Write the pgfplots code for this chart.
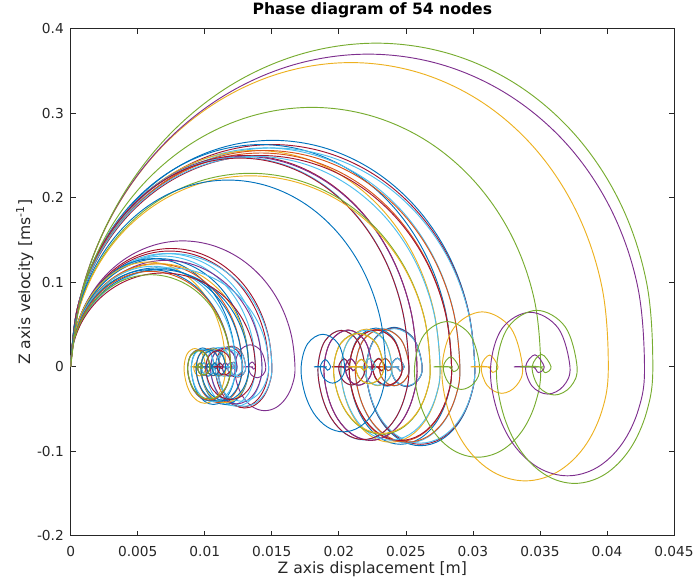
\documentclass[border=0pt]{standalone}
\usepackage{fontspec}
\setmainfont{DejaVu Sans}
\usepackage{pgfplots}
\usepackage{pgfplotstable}
\pgfplotsset{compat=1.18}

\definecolor{mblue}{rgb}{0,0.447,0.741}
\definecolor{morange}{rgb}{0.85,0.325,0.098}
\definecolor{myellow}{rgb}{0.929,0.694,0.125}
\definecolor{mpurple}{rgb}{0.494,0.184,0.556}
\definecolor{mgreen}{rgb}{0.466,0.674,0.188}
\definecolor{mcyan}{rgb}{0.301,0.745,0.933}
\definecolor{mred}{rgb}{0.635,0.078,0.184}
\definecolor{axgray}{rgb}{0.15,0.15,0.15}

\pgfplotsset{trace/.style={smooth, tension=0.6, line width=0.7pt, mark=none}}

% one row per column: displacement (x..) and velocity (v..) of each trace
\pgfplotstableread{
name p0 p1 p2 p3 p4 p5 p6 p7 p8 p9 p10 p11 p12 p13 p14 p15 p16 p17 p18 p19 p20 p21 p22 p23 p24 p25 p26 p27 p28 p29 p30 p31 p32 p33 p34
xa136 0 0.00028 0.00112 0.00245 0.00418 0.00620 0.00836 0.01053 0.01255 0.01428 0.01561 0.01644 0.01673 0.01656 0.01607 0.01534 0.01448 0.01363 0.01290 0.01241 0.01224 0.01258 0.01340 0.01421 0.01455 0.01436 0.01391 0.01345 0.01326 0.01353 0.01380 0.01363 0.01346 0.01292 0.01360
xa122 0 0.00025 0.00101 0.00220 0.00375 0.00556 0.00750 0.00945 0.01125 0.01281 0.01400 0.01475 0.01501 0.01485 0.01442 0.01376 0.01299 0.01222 0.01157 0.01113 0.01098 0.01128 0.01202 0.01275 0.01305 0.01288 0.01247 0.01206 0.01190 0.01214 0.01238 0.01223 0.01208 0.01159 0.01220
xa120 0 0.00025 0.00099 0.00216 0.00369 0.00547 0.00738 0.00929 0.01107 0.01260 0.01377 0.01451 0.01476 0.01461 0.01418 0.01354 0.01278 0.01202 0.01138 0.01095 0.01080 0.01110 0.01182 0.01254 0.01284 0.01267 0.01227 0.01187 0.01170 0.01194 0.01218 0.01203 0.01188 0.01140 0.01200
xa116 0 0.00024 0.00096 0.00209 0.00357 0.00529 0.00713 0.00898 0.01070 0.01218 0.01331 0.01402 0.01427 0.01412 0.01371 0.01309 0.01235 0.01162 0.01100 0.01059 0.01044 0.01073 0.01143 0.01212 0.01241 0.01225 0.01186 0.01147 0.01131 0.01154 0.01177 0.01163 0.01148 0.01102 0.01160
xa112 0 0.00023 0.00092 0.00202 0.00344 0.00510 0.00689 0.00867 0.01033 0.01176 0.01285 0.01354 0.01378 0.01363 0.01324 0.01263 0.01193 0.01122 0.01062 0.01022 0.01008 0.01036 0.01103 0.01171 0.01198 0.01183 0.01145 0.01108 0.01092 0.01114 0.01137 0.01123 0.01109 0.01064 0.01120
xa108 0 0.00023 0.00089 0.00195 0.00332 0.00492 0.00664 0.00836 0.00996 0.01134 0.01239 0.01306 0.01328 0.01315 0.01276 0.01218 0.01150 0.01082 0.01024 0.00986 0.00972 0.00999 0.01064 0.01129 0.01156 0.01141 0.01104 0.01068 0.01053 0.01075 0.01096 0.01083 0.01069 0.01026 0.01080
xa104 0 0.00022 0.00086 0.00187 0.00320 0.00474 0.00640 0.00805 0.00959 0.01092 0.01194 0.01257 0.01279 0.01266 0.01229 0.01173 0.01108 0.01042 0.00986 0.00949 0.00936 0.00962 0.01024 0.01087 0.01113 0.01098 0.01063 0.01028 0.01014 0.01035 0.01056 0.01043 0.01030 0.00988 0.01040
xa100 0 0.00021 0.00082 0.00180 0.00308 0.00456 0.00615 0.00774 0.00923 0.01050 0.01148 0.01209 0.01230 0.01217 0.01182 0.01128 0.01065 0.01002 0.00948 0.00913 0.00900 0.00925 0.00985 0.01045 0.01070 0.01056 0.01023 0.00989 0.00975 0.00995 0.01015 0.01003 0.00990 0.00950 0.01000
xa97 0 0.00020 0.00080 0.00175 0.00298 0.00442 0.00597 0.00751 0.00895 0.01018 0.01113 0.01173 0.01193 0.01181 0.01146 0.01094 0.01033 0.00972 0.00920 0.00885 0.00873 0.00897 0.00955 0.01014 0.01038 0.01024 0.00992 0.00959 0.00946 0.00965 0.00985 0.00972 0.00960 0.00922 0.00970
xa94 0 0.00020 0.00077 0.00169 0.00289 0.00428 0.00578 0.00728 0.00867 0.00987 0.01079 0.01136 0.01156 0.01144 0.01111 0.01060 0.01001 0.00942 0.00891 0.00858 0.00846 0.00869 0.00926 0.00982 0.01006 0.00993 0.00961 0.00930 0.00917 0.00935 0.00954 0.00942 0.00931 0.00893 0.00940
va149 0 0.0386 0.0745 0.1054 0.1290 0.1439 0.1490 0.1439 0.1290 0.1054 0.0745 0.0386 0 -0.0199 -0.0367 -0.0480 -0.0519 -0.0480 -0.0367 -0.0199 0 0.0184 0.0260 0.0184 0 -0.0092 -0.0130 -0.0092 0 0.0057 0 -0.0027 0 0 0
va140 0 0.0363 0.0700 0.0990 0.1212 0.1352 0.1400 0.1352 0.1212 0.0990 0.0700 0.0363 0 -0.0187 -0.0345 -0.0451 -0.0488 -0.0451 -0.0345 -0.0187 0 0.0172 0.0244 0.0172 0 -0.0086 -0.0122 -0.0086 0 0.0054 0 -0.0026 0 0 0
va137 0 0.0355 0.0685 0.0969 0.1186 0.1323 0.1370 0.1323 0.1186 0.0969 0.0685 0.0355 0 -0.0183 -0.0338 -0.0441 -0.0478 -0.0441 -0.0338 -0.0183 0 0.0169 0.0239 0.0169 0 -0.0085 -0.0119 -0.0085 0 0.0053 0 -0.0025 0 0 0
va134 0 0.0347 0.0670 0.0948 0.1160 0.1294 0.1340 0.1294 0.1160 0.0948 0.0670 0.0347 0 -0.0179 -0.0330 -0.0432 -0.0467 -0.0432 -0.0330 -0.0179 0 0.0165 0.0234 0.0165 0 -0.0083 -0.0117 -0.0083 0 0.0052 0 -0.0025 0 0 0
va131 0 0.0339 0.0655 0.0926 0.1134 0.1265 0.1310 0.1265 0.1134 0.0926 0.0655 0.0339 0 -0.0175 -0.0323 -0.0422 -0.0457 -0.0422 -0.0323 -0.0175 0 0.0161 0.0228 0.0161 0 -0.0081 -0.0114 -0.0081 0 0.0050 0 -0.0024 0 0 0
va128 0 0.0332 0.0640 0.0905 0.1108 0.1236 0.1280 0.1236 0.1108 0.0905 0.0640 0.0332 0 -0.0171 -0.0316 -0.0412 -0.0446 -0.0412 -0.0316 -0.0171 0 0.0158 0.0223 0.0158 0 -0.0079 -0.0112 -0.0079 0 0.0049 0 -0.0023 0 0 0
va126 0 0.0326 0.0630 0.0891 0.1091 0.1217 0.1260 0.1217 0.1091 0.0891 0.0630 0.0326 0 -0.0168 -0.0311 -0.0406 -0.0439 -0.0406 -0.0311 -0.0168 0 0.0155 0.0220 0.0155 0 -0.0078 -0.0110 -0.0078 0 0.0049 0 -0.0023 0 0 0
va124 0 0.0321 0.0620 0.0877 0.1074 0.1198 0.1240 0.1198 0.1074 0.0877 0.0620 0.0321 0 -0.0165 -0.0306 -0.0399 -0.0432 -0.0399 -0.0306 -0.0165 0 0.0153 0.0216 0.0153 0 -0.0077 -0.0108 -0.0077 0 0.0048 0 -0.0023 0 0 0
va122 0 0.0316 0.0610 0.0863 0.1057 0.1178 0.1220 0.1178 0.1057 0.0863 0.0610 0.0316 0 -0.0163 -0.0301 -0.0393 -0.0425 -0.0393 -0.0301 -0.0163 0 0.0150 0.0213 0.0150 0 -0.0075 -0.0106 -0.0075 0 0.0047 0 -0.0022 0 0 0
va119 0 0.0308 0.0595 0.0841 0.1031 0.1149 0.1190 0.1149 0.1031 0.0841 0.0595 0.0308 0 -0.0159 -0.0293 -0.0383 -0.0415 -0.0383 -0.0293 -0.0159 0 0.0147 0.0207 0.0147 0 -0.0073 -0.0104 -0.0073 0 0.0046 0 -0.0022 0 0 0
va117 0 0.0303 0.0585 0.0827 0.1013 0.1130 0.1170 0.1130 0.1013 0.0827 0.0585 0.0303 0 -0.0156 -0.0288 -0.0377 -0.0408 -0.0377 -0.0288 -0.0156 0 0.0144 0.0204 0.0144 0 -0.0072 -0.0102 -0.0072 0 0.0045 0 -0.0021 0 0 0
va115 0 0.0298 0.0575 0.0813 0.0996 0.1111 0.1150 0.1111 0.0996 0.0813 0.0575 0.0298 0 -0.0153 -0.0283 -0.0370 -0.0401 -0.0370 -0.0283 -0.0153 0 0.0142 0.0200 0.0142 0 -0.0071 -0.0100 -0.0071 0 0.0044 0 -0.0021 0 0 0
va113 0 0.0293 0.0565 0.0799 0.0979 0.1091 0.1130 0.1091 0.0979 0.0799 0.0565 0.0293 0 -0.0151 -0.0279 -0.0364 -0.0394 -0.0364 -0.0279 -0.0151 0 0.0139 0.0197 0.0139 0 -0.0070 -0.0099 -0.0070 0 0.0044 0 -0.0021 0 0 0
va111 0 0.0287 0.0555 0.0785 0.0961 0.1072 0.1110 0.1072 0.0961 0.0785 0.0555 0.0287 0 -0.0148 -0.0274 -0.0358 -0.0387 -0.0358 -0.0274 -0.0148 0 0.0137 0.0193 0.0137 0 -0.0068 -0.0097 -0.0068 0 0.0043 0 -0.0020 0 0 0
va109 0 0.0282 0.0545 0.0771 0.0944 0.1053 0.1090 0.1053 0.0944 0.0771 0.0545 0.0282 0 -0.0145 -0.0269 -0.0351 -0.0380 -0.0351 -0.0269 -0.0145 0 0.0134 0.0190 0.0134 0 -0.0067 -0.0095 -0.0067 0 0.0042 0 -0.0020 0 0 0
}\rawA
\pgfplotstabletranspose[colnames from=name]{\tabA}{\rawA}

\pgfplotstableread{
name p0 p1 p2 p3 p4 p5 p6 p7 p8 p9 p10 p11 p12 p13 p14 p15 p16 p17 p18 p19 p20 p21 p22 p23 p24 p25 p26 p27 p28 p29 p30 p31 p32 p33 p34
xb245 0 0.00051 0.00202 0.00441 0.00753 0.01117 0.01507 0.01897 0.02260 0.02572 0.02812 0.02962 0.03014 0.02983 0.02895 0.02764 0.02609 0.02455 0.02323 0.02236 0.02205 0.02266 0.02413 0.02560 0.02622 0.02587 0.02505 0.02423 0.02389 0.02438 0.02487 0.02456 0.02426 0.02328 0.02450
xb236 0 0.00049 0.00194 0.00425 0.00726 0.01076 0.01451 0.01827 0.02177 0.02478 0.02708 0.02853 0.02903 0.02873 0.02789 0.02662 0.02513 0.02364 0.02238 0.02154 0.02124 0.02183 0.02325 0.02466 0.02525 0.02492 0.02413 0.02334 0.02301 0.02348 0.02395 0.02366 0.02336 0.02242 0.02360
xb231 0 0.00048 0.00190 0.00416 0.00710 0.01053 0.01421 0.01788 0.02131 0.02425 0.02651 0.02793 0.02841 0.02812 0.02730 0.02606 0.02460 0.02314 0.02191 0.02108 0.02079 0.02137 0.02275 0.02414 0.02472 0.02440 0.02362 0.02284 0.02252 0.02298 0.02345 0.02316 0.02287 0.02195 0.02310
xb224 0 0.00047 0.00185 0.00403 0.00689 0.01021 0.01378 0.01734 0.02066 0.02352 0.02571 0.02708 0.02755 0.02727 0.02647 0.02527 0.02386 0.02244 0.02124 0.02044 0.02016 0.02072 0.02206 0.02341 0.02397 0.02366 0.02290 0.02215 0.02184 0.02229 0.02274 0.02246 0.02218 0.02128 0.02240
xb218 0 0.00046 0.00180 0.00393 0.00670 0.00994 0.01341 0.01688 0.02011 0.02289 0.02502 0.02636 0.02681 0.02654 0.02576 0.02459 0.02322 0.02184 0.02067 0.01989 0.01962 0.02016 0.02147 0.02278 0.02333 0.02302 0.02229 0.02156 0.02126 0.02169 0.02213 0.02185 0.02158 0.02071 0.02180
xb210 0 0.00044 0.00173 0.00378 0.00646 0.00957 0.01292 0.01626 0.01937 0.02205 0.02410 0.02539 0.02583 0.02557 0.02482 0.02369 0.02237 0.02104 0.01991 0.01916 0.01890 0.01942 0.02069 0.02195 0.02247 0.02218 0.02147 0.02077 0.02048 0.02090 0.02132 0.02105 0.02079 0.01995 0.02100
xb205 0 0.00043 0.00169 0.00369 0.00630 0.00934 0.01261 0.01587 0.01891 0.02152 0.02353 0.02478 0.02522 0.02496 0.02423 0.02313 0.02183 0.02054 0.01944 0.01871 0.01845 0.01896 0.02019 0.02142 0.02194 0.02165 0.02096 0.02027 0.01999 0.02040 0.02081 0.02055 0.02030 0.01948 0.02050
xb191 0 0.00040 0.00157 0.00344 0.00587 0.00871 0.01175 0.01479 0.01762 0.02005 0.02192 0.02309 0.02349 0.02325 0.02257 0.02155 0.02034 0.01914 0.01811 0.01743 0.01719 0.01767 0.01881 0.01996 0.02044 0.02017 0.01953 0.01889 0.01862 0.01900 0.01939 0.01915 0.01891 0.01815 0.01910
vb268 0 0.0694 0.1340 0.1895 0.2321 0.2589 0.2680 0.2589 0.2321 0.1895 0.1340 0.0694 0 -0.0358 -0.0661 -0.0863 -0.0934 -0.0863 -0.0661 -0.0358 0 0.0330 0.0467 0.0330 0 -0.0165 -0.0234 -0.0165 0 0.0103 0 -0.0049 0 0 0
vb263 0 0.0681 0.1315 0.1860 0.2278 0.2540 0.2630 0.2540 0.2278 0.1860 0.1315 0.0681 0 -0.0351 -0.0648 -0.0847 -0.0917 -0.0847 -0.0648 -0.0351 0 0.0324 0.0458 0.0324 0 -0.0162 -0.0229 -0.0162 0 0.0101 0 -0.0048 0 0 0
vb259 0 0.0671 0.1295 0.1831 0.2243 0.2502 0.2590 0.2502 0.2243 0.1831 0.1295 0.0671 0 -0.0346 -0.0638 -0.0834 -0.0903 -0.0834 -0.0638 -0.0346 0 0.0319 0.0451 0.0319 0 -0.0160 -0.0226 -0.0160 0 0.0100 0 -0.0047 0 0 0
vb256 0 0.0663 0.1280 0.1810 0.2217 0.2473 0.2560 0.2473 0.2217 0.1810 0.1280 0.0663 0 -0.0342 -0.0631 -0.0825 -0.0892 -0.0825 -0.0631 -0.0342 0 0.0315 0.0446 0.0315 0 -0.0158 -0.0223 -0.0158 0 0.0099 0 -0.0047 0 0 0
vb253 0 0.0655 0.1265 0.1789 0.2191 0.2444 0.2530 0.2444 0.2191 0.1789 0.1265 0.0655 0 -0.0338 -0.0624 -0.0815 -0.0882 -0.0815 -0.0624 -0.0338 0 0.0312 0.0441 0.0312 0 -0.0156 -0.0221 -0.0156 0 0.0097 0 -0.0046 0 0 0
vb250 0 0.0648 0.1250 0.1768 0.2165 0.2415 0.2500 0.2415 0.2165 0.1768 0.1250 0.0648 0 -0.0334 -0.0616 -0.0805 -0.0872 -0.0805 -0.0616 -0.0334 0 0.0308 0.0436 0.0308 0 -0.0154 -0.0218 -0.0154 0 0.0096 0 -0.0046 0 0 0
vb249 0 0.0645 0.1245 0.1761 0.2156 0.2405 0.2490 0.2405 0.2156 0.1761 0.1245 0.0645 0 -0.0332 -0.0614 -0.0802 -0.0868 -0.0802 -0.0614 -0.0332 0 0.0307 0.0434 0.0307 0 -0.0154 -0.0217 -0.0154 0 0.0096 0 -0.0046 0 0 0
vb248 0 0.0642 0.1240 0.1754 0.2148 0.2395 0.2480 0.2395 0.2148 0.1754 0.1240 0.0642 0 -0.0331 -0.0611 -0.0799 -0.0865 -0.0799 -0.0611 -0.0331 0 0.0306 0.0432 0.0306 0 -0.0153 -0.0216 -0.0153 0 0.0095 0 -0.0045 0 0 0
vb247 0 0.0640 0.1235 0.1747 0.2139 0.2386 0.2470 0.2386 0.2139 0.1747 0.1235 0.0640 0 -0.0329 -0.0609 -0.0796 -0.0861 -0.0796 -0.0609 -0.0329 0 0.0304 0.0431 0.0304 0 -0.0152 -0.0215 -0.0152 0 0.0095 0 -0.0045 0 0 0
vb229 0 0.0593 0.1145 0.1619 0.1983 0.2212 0.2290 0.2212 0.1983 0.1619 0.1145 0.0593 0 -0.0305 -0.0564 -0.0738 -0.0798 -0.0738 -0.0564 -0.0305 0 0.0282 0.0399 0.0282 0 -0.0141 -0.0200 -0.0141 0 0.0088 0 -0.0042 0 0 0
vb226 0 0.0585 0.1130 0.1598 0.1957 0.2183 0.2260 0.2183 0.1957 0.1598 0.1130 0.0585 0 -0.0301 -0.0557 -0.0728 -0.0788 -0.0728 -0.0557 -0.0301 0 0.0278 0.0394 0.0278 0 -0.0139 -0.0197 -0.0139 0 0.0087 0 -0.0041 0 0 0
vb221 0 0.0572 0.1105 0.1563 0.1914 0.2135 0.2210 0.2135 0.1914 0.1563 0.1105 0.0572 0 -0.0295 -0.0545 -0.0712 -0.0770 -0.0712 -0.0545 -0.0295 0 0.0272 0.0385 0.0272 0 -0.0136 -0.0193 -0.0136 0 0.0085 0 -0.0040 0 0 0
}\rawB
\pgfplotstabletranspose[colnames from=name]{\tabB}{\rawB}

\pgfplotstableread{
name p0 p1 p2 p3 p4 p5 p6 p7 p8 p9 p10 p11 p12 p13 p14 p15 p16 p17 p18 p19 p20 p21 p22 p23 p24 p25 p26 p27 p28 p29 p30 p31 p32 p33 p34
xc285 0 0.00072 0.00258 0.00546 0.00917 0.01344 0.01800 0.02252 0.02670 0.03025 0.03294 0.03458 0.03506 0.03470 0.03368 0.03215 0.03035 0.02855 0.02703 0.02601 0.02565 0.02636 0.02807 0.02979 0.03050 0.03010 0.02914 0.02818 0.02779 0.02836 0.02893 0.02857 0.02822 0.02708 0.02850
xc314 0 0.00090 0.00311 0.00647 0.01076 0.01568 0.02090 0.02606 0.03081 0.03483 0.03784 0.03964 0.04010 0.03963 0.03828 0.03627 0.03390 0.03153 0.02952 0.02817 0.02770 0.02858 0.03070 0.03282 0.03370 0.03325 0.03216 0.03107 0.03062 0.03125 0.03187 0.03148 0.03109 0.02983 0.03140
xc348 0 0.00094 0.00327 0.00683 0.01139 0.01663 0.02220 0.02771 0.03279 0.03711 0.04034 0.04228 0.04280 0.04237 0.04112 0.03926 0.03706 0.03487 0.03300 0.03176 0.03132 0.03219 0.03428 0.03637 0.03724 0.03675 0.03558 0.03441 0.03393 0.03463 0.03532 0.03489 0.03445 0.03306 0.03480
xc353 0 0.00102 0.00346 0.00713 0.01179 0.01714 0.02280 0.02838 0.03350 0.03783 0.04106 0.04296 0.04342 0.04297 0.04171 0.03982 0.03759 0.03537 0.03348 0.03221 0.03177 0.03265 0.03477 0.03689 0.03777 0.03728 0.03609 0.03491 0.03442 0.03512 0.03583 0.03539 0.03495 0.03354 0.03530
vc307 0 0.0795 0.1535 0.2171 0.2659 0.2965 0.3070 0.2965 0.2659 0.2171 0.1535 0.0795 0 -0.0410 -0.0757 -0.0989 -0.1070 -0.0989 -0.0757 -0.0410 0 0.0378 0.0535 0.0378 0 -0.0189 -0.0268 -0.0189 0 0.0118 0 -0.0056 0 0 0
vc360 0 0.0932 0.1800 0.2546 0.3118 0.3477 0.3600 0.3477 0.3118 0.2546 0.1800 0.0932 0 -0.0517 -0.0955 -0.1247 -0.1350 -0.1247 -0.0955 -0.0517 0 0.0460 0.0650 0.0460 0 -0.0222 -0.0314 -0.0222 0 0.0139 0 -0.0066 0 0 0
vc370 0 0.0958 0.1850 0.2616 0.3204 0.3574 0.3700 0.3574 0.3204 0.2616 0.1850 0.0958 0 -0.0494 -0.0912 -0.1192 -0.1290 -0.1192 -0.0912 -0.0494 0 0.0456 0.0645 0.0456 0 -0.0228 -0.0323 -0.0228 0 0.0142 0 -0.0068 0 0 0
vc383 0 0.0992 0.1915 0.2708 0.3317 0.3699 0.3830 0.3699 0.3317 0.2708 0.1915 0.0992 0 -0.0528 -0.0975 -0.1275 -0.1380 -0.1275 -0.0975 -0.0528 0 0.0472 0.0668 0.0472 0 -0.0236 -0.0334 -0.0236 0 0.0147 0 -0.0070 0 0 0
}\rawC
\pgfplotstabletranspose[colnames from=name]{\tabC}{\rawC}

\begin{document}
\begin{tikzpicture}
\begin{axis}[
  scale only axis,
  width=452.5pt, height=380.25pt,
  xmin=0, xmax=0.045, ymin=-0.2, ymax=0.4,
  xtick={0,0.005,0.01,0.015,0.02,0.025,0.03,0.035,0.04,0.045},
  xticklabels={0,0.005,0.01,0.015,0.02,0.025,0.03,0.035,0.04,0.045},
  ytick={-0.2,-0.1,0,0.1,0.2,0.3,0.4},
  yticklabels={-0.2,-0.1,0,0.1,0.2,0.3,0.4},
  scaled x ticks=false, scaled y ticks=false,
  tick align=inside, major tick length=3.75pt,
  tick style={axgray, line width=0.5pt},
  axis line style={axgray, line width=0.6pt},
  ticklabel style={font=\fontsize{10.3}{12}\selectfont, text=axgray},
  xticklabel style={anchor=base, yshift=-15.2pt},
  yticklabel style={anchor=east, xshift=-1.6pt},
  title={Phase diagram of 54 nodes},
  title style={at={(axis description cs:0.5,1.012)}, anchor=base,
    font=\bfseries\fontsize{11.7}{14}\selectfont},
  xlabel={Z axis displacement [m]},
  ylabel={Z axis velocity [ms\textsuperscript{-1}]},
  label style={font=\fontsize{11.7}{14}\selectfont, text=axgray},
  xlabel style={at={(axis description cs:0.5,-0.0753)}, anchor=base},
  ylabel style={at={(axis description cs:-0.0674,0.5)}, anchor=base},
]
\coordinate (sw) at (axis description cs:0,0);
\coordinate (ne) at (axis description cs:1,1);

% small group
\addplot[trace, mpurple] table[x=xa136,y=va149]{\tabA};
\addplot[trace, mred] table[x=xa122,y=va140]{\tabA};
\addplot[trace, mred] table[x=xa120,y=va137]{\tabA};
\addplot[trace, mcyan] table[x=xa116,y=va134]{\tabA};
\addplot[trace, mcyan] table[x=xa122,y=va134]{\tabA};
\addplot[trace, mcyan] table[x=xa112,y=va131]{\tabA};
\addplot[trace, mblue] table[x=xa108,y=va128]{\tabA};
\addplot[trace, mblue] table[x=xa100,y=va128]{\tabA};
\addplot[trace, mpurple] table[x=xa116,y=va126]{\tabA};
\addplot[trace, myellow] table[x=xa94,y=va124]{\tabA};
\addplot[trace, morange] table[x=xa104,y=va122]{\tabA};
\addplot[trace, myellow] table[x=xa108,y=va122]{\tabA};
\addplot[trace, mcyan] table[x=xa100,y=va119]{\tabA};
\addplot[trace, mblue] table[x=xa104,y=va117]{\tabA};
\addplot[trace, mcyan] table[x=xa120,y=va117]{\tabA};
\addplot[trace, mblue] table[x=xa108,y=va115]{\tabA};
\addplot[trace, mblue] table[x=xa97,y=va115]{\tabA};
\addplot[trace, morange] table[x=xa97,y=va113]{\tabA};
\addplot[trace, mred] table[x=xa112,y=va111]{\tabA};
\addplot[trace, mgreen] table[x=xa97,y=va109]{\tabA};

% middle group
\addplot[trace, mblue] table[x=xb245,y=vb268]{\tabB};
\addplot[trace, mred] table[x=xb245,y=vb263]{\tabB};
\addplot[trace, mblue] table[x=xb231,y=vb263]{\tabB};
\addplot[trace, mcyan] table[x=xb236,y=vb259]{\tabB};
\addplot[trace, mcyan] table[x=xb245,y=vb259]{\tabB};
\addplot[trace, myellow] table[x=xb224,y=vb256]{\tabB};
\addplot[trace, morange] table[x=xb236,y=vb256]{\tabB};
\addplot[trace, morange] table[x=xb231,y=vb253]{\tabB};
\addplot[trace, mred] table[x=xb210,y=vb250]{\tabB};
\addplot[trace, mred] table[x=xb231,y=vb250]{\tabB};
\addplot[trace, mpurple] table[x=xb210,y=vb249]{\tabB};
\addplot[trace, mcyan] table[x=xb224,y=vb249]{\tabB};
\addplot[trace, mcyan] table[x=xb205,y=vb248]{\tabB};
\addplot[trace, mred] table[x=xb205,y=vb247]{\tabB};
\addplot[trace, mgreen] table[x=xb218,y=vb229]{\tabB};
\addplot[trace, myellow] table[x=xb218,y=vb226]{\tabB};
\addplot[trace, mblue] table[x=xb191,y=vb221]{\tabB};

% large group
\addplot[trace, mgreen] table[x=xc285,y=vc307]{\tabC};
\addplot[trace, myellow] table[x=xc314,y=vc360]{\tabC};
\addplot[trace, mpurple] table[x=xc348,y=vc370]{\tabC};
\addplot[trace, mgreen] table[x=xc353,y=vc383]{\tabC};
\end{axis}
\pgfresetboundingbox
\path ([shift={(-53pt,-33.9pt)}]sw) rectangle ([shift={(18.75pt,21.6pt)}]ne);
\end{tikzpicture}
\end{document}
